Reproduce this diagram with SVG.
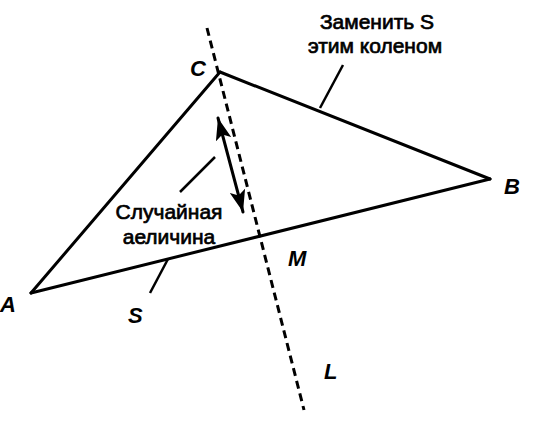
<svg xmlns="http://www.w3.org/2000/svg" width="538" height="429" viewBox="0 0 538 429">
<style>
.ln{stroke:#000;stroke-width:3;fill:none;stroke-linecap:round}
.ld{stroke:#000;stroke-width:2.5;fill:none}
.dash{stroke:#000;stroke-width:3;fill:none;stroke-dasharray:8 5}
.lab{font-family:"Liberation Sans",Arial,sans-serif;font-size:22px;font-style:italic;font-weight:bold;fill:#000}
.txt{font-family:"Liberation Sans",Arial,sans-serif;font-size:21px;fill:#000;stroke:#000;stroke-width:0.7}
</style>
<defs>
<marker id="ah" viewBox="0 0 22 16" refX="22" refY="8" markerWidth="22" markerHeight="16" markerUnits="userSpaceOnUse" orient="auto-start-reverse">
<path d="M0,0 L22,8 L0,16 L5,8 Z" fill="#000"/>
</marker>
</defs>
<g id="connectors">
<path id="AC" class="ln" d="M31,293 L220,72"/>
<path id="CB" class="ln" d="M220,72 L490,179"/>
<path id="AB" class="ln" d="M31,293 L490,179"/>
<path id="L" class="dash" d="M207,28 L304,410"/>
<path id="arrow" class="ln" d="M218,118 L243,212" marker-start="url(#ah)" marker-end="url(#ah)"/>
<path class="ld" d="M180,192 L215,157"/>
<path class="ld" d="M343,65 L320,108"/>
<path class="ld" d="M168,259 L150,293"/>
</g>
<g id="A"><text class="lab" x="0" y="312">A</text></g>
<g id="B"><text class="lab" x="504" y="194">B</text></g>
<g id="C"><text class="lab" x="190" y="76">C</text></g>
<g id="M"><text class="lab" x="288" y="266">M</text></g>
<g id="Lab"><text class="lab" x="324" y="379">L</text></g>
<g id="S"><text class="lab" x="128" y="323">S</text></g>
<g id="note1"><text class="txt" text-anchor="middle"><tspan x="377" y="29">Заменить S</tspan><tspan x="375" y="53">этим коленом</tspan></text></g>
<g id="note2"><text class="txt" text-anchor="middle"><tspan x="169" y="219">Случайная</tspan><tspan x="169" y="244">аеличина</tspan></text></g>
</svg>
